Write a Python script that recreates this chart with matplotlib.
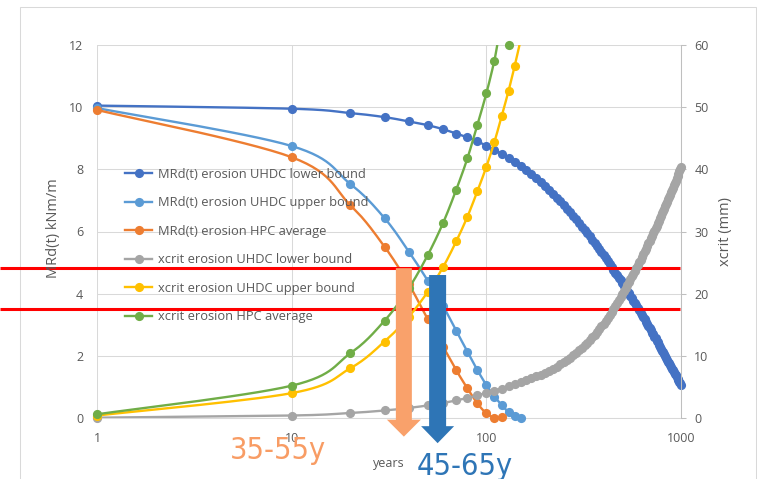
import numpy as np
import matplotlib
matplotlib.use("Agg")
import matplotlib.pyplot as plt
from matplotlib import font_manager
from matplotlib.lines import Line2D
from matplotlib.patches import Polygon, Rectangle
from matplotlib.transforms import blended_transform_factory

# ---------------------------------------------------------------- data
years_long = [1] + list(range(10, 1001, 10))

mrd_uhdc_lower = [
    10.05,
    9.95, 9.81, 9.68, 9.54, 9.42, 9.29, 9.15, 9.03, 8.90, 8.76,
    8.63, 8.50, 8.36, 8.23, 8.10, 7.97, 7.84, 7.72, 7.59, 7.46,
    7.34, 7.22, 7.09, 6.97, 6.85, 6.73, 6.62, 6.50, 6.39, 6.27,
    6.16, 6.05, 5.95, 5.84, 5.73, 5.63, 5.53, 5.43, 5.33, 5.23,
    5.14, 5.05, 4.95, 4.86, 4.77, 4.68, 4.60, 4.51, 4.43, 4.34,
    4.26, 4.18, 4.09, 4.01, 3.93, 3.85, 3.77, 3.70, 3.62, 3.54,
    3.47, 3.39, 3.32, 3.24, 3.17, 3.10, 3.03, 2.96, 2.89, 2.82,
    2.75, 2.69, 2.62, 2.56, 2.49, 2.43, 2.36, 2.30, 2.23, 2.17,
    2.11, 2.05, 1.99, 1.93, 1.87, 1.81, 1.76, 1.70, 1.65, 1.59,
    1.54, 1.48, 1.43, 1.37, 1.32, 1.27, 1.22, 1.17, 1.12, 1.07,
]

xcrit_uhdc_lower = [
    0.05,
    0.40, 0.81, 1.21, 1.62, 2.02, 2.42, 2.83, 3.23, 3.64, 4.04,
    4.39, 4.73, 5.07, 5.41, 5.75, 6.06, 6.37, 6.68, 6.99, 7.30,
    7.62, 7.94, 8.27, 8.61, 8.95, 9.32, 9.70, 10.09, 10.49, 10.90,
    11.31, 11.72, 12.14, 12.57, 13.00, 13.43, 13.86, 14.30, 14.75, 15.20,
    15.65, 16.10, 16.56, 17.03, 17.50, 17.97, 18.45, 18.93, 19.41, 19.90,
    20.38, 20.86, 21.34, 21.82, 22.30, 22.77, 23.24, 23.70, 24.15, 24.60,
    25.05, 25.49, 25.93, 26.37, 26.80, 27.23, 27.65, 28.07, 28.49, 28.90,
    29.31, 29.71, 30.11, 30.51, 30.91, 31.31, 31.71, 32.11, 32.51, 32.90,
    33.29, 33.68, 34.06, 34.44, 34.82, 35.20, 35.58, 35.95, 36.33, 36.70,
    37.07, 37.44, 37.81, 38.18, 38.55, 38.92, 39.29, 39.66, 40.03, 40.40,
]

years_uhdc_upper = [1, 10, 20, 30, 40, 50, 60, 70, 80, 90, 100, 110, 120, 130, 140, 150]
mrd_uhdc_upper = [9.97, 8.75, 7.53, 6.43, 5.35, 4.42, 3.60, 2.81, 2.13, 1.54,
                  1.06, 0.69, 0.42, 0.18, 0.05, 0.01]
xcrit_uhdc_upper = [0.4, 4.0, 8.0, 12.3, 16.3, 20.3, 24.3, 28.4, 32.4, 36.5,
                    40.4, 44.4, 48.6, 52.6, 56.7, 60.8]

years_hpc_mrd = [1, 10, 20, 30, 40, 50, 60, 70, 80, 90, 100, 110, 120]
mrd_hpc = [9.91, 8.39, 6.85, 5.51, 4.30, 3.18, 2.29, 1.54, 0.95, 0.47, 0.15, 0.01, 0.02]

years_hpc_x = [1, 10, 20, 30, 40, 50, 60, 70, 80, 90, 100, 110, 120, 130]
xcrit_hpc = [0.6, 5.2, 10.4, 15.65, 20.9, 26.2, 31.4, 36.7, 41.8, 47.2, 52.2, 57.5, 63.2, 60.0]

labels = [
    "MRd(t) erosion UHDC lower bound",
    "MRd(t) erosion UHDC upper bound",
    "MRd(t) erosion HPC average",
    "xcrit erosion UHDC lower bound",
    "xcrit erosion UHDC upper bound",
    "xcrit erosion HPC average",
]
colors = ["#4472C4", "#5B9BD5", "#ED7D31", "#A5A5A5", "#FFC000", "#70AD47"]

# MRd thresholds marked with red lines (kNm/m)
mrd_limits = [4.82, 3.50]

# ---------------------------------------------------------------- style
plt.rcParams["font.family"] = ["Open Sans", "DejaVu Sans"]
TXT = "#595959"
GRID = "#D9D9D9"
LW = 1.7
MS = 6.6

names = {f.name for f in font_manager.fontManager.ttflist}
if "Liberation Sans Narrow" in names:
    big_font = dict(family="Liberation Sans Narrow")
else:
    big_font = dict(family="DejaVu Sans", stretch="condensed")

W, H = 757, 479
fig = plt.figure(figsize=(W / 100, H / 100), dpi=100)
ax = fig.add_axes([97 / W, 61 / H, 584 / W, 373 / H])
ax2 = ax.twinx()

ax.set_xscale("log")
ax.set_xlim(1, 1000)
ax.set_ylim(0, 12)
ax2.set_ylim(0, 60)
ax.set_xticks([1, 10, 100, 1000])
ax.set_xticklabels(["1", "10", "100", "1000"])
ax.xaxis.set_minor_locator(matplotlib.ticker.NullLocator())
ax.set_yticks(range(0, 13, 2))
ax2.set_yticks(range(0, 61, 10))

ax.grid(True, which="major", color=GRID, lw=0.75)
ax.set_axisbelow(True)
for s in ("top", "left", "right"):
    ax.spines[s].set_visible(False)
ax.spines["bottom"].set_color(GRID)
ax.spines["bottom"].set_linewidth(0.75)
for s in ("top", "left", "bottom"):
    ax2.spines[s].set_visible(False)
ax2.spines["right"].set_color("#BFBFBF")
ax2.spines["right"].set_linewidth(0.75)

ax.tick_params(axis="x", length=0, pad=10, labelsize=9, labelcolor=TXT)
ax.tick_params(axis="y", length=0, pad=10, labelsize=9, labelcolor=TXT)
ax2.tick_params(axis="y", length=3.6, width=0.75, color="#BFBFBF", pad=6,
                labelsize=9, labelcolor=TXT)

# axis titles
fig.text(54 / W, 1 - 228 / H, "MRd(t) kNm/m", fontsize=10.5, color=TXT,
         rotation=90, ha="center", va="center")
fig.text(726 / W, 1 - 232 / H, "xcrit (mm)", fontsize=10.5, color=TXT,
         rotation=90, ha="center", va="center")
fig.text(389 / W, 1 - 463 / H, "years", fontsize=9, color=TXT,
         ha="center", va="center")


def smooth(axis, xs, ys, steps=16):
    """Bezier smoothing (Catmull-Rom style) in screen space."""
    pts = axis.transData.transform(np.column_stack([xs, ys]))
    n = len(pts)
    out = [pts[0]]
    s = np.linspace(0, 1, steps)[1:, None]
    for i in range(n - 1):
        p0 = pts[i - 1] if i > 0 else pts[i]
        p1, p2 = pts[i], pts[i + 1]
        p3 = pts[i + 2] if i + 2 < n else pts[i + 1]
        c1 = p1 + (p2 - p0) / 6
        c2 = p2 - (p3 - p1) / 6
        seg = ((1 - s) ** 3) * p1 + 3 * ((1 - s) ** 2) * s * c1 \
            + 3 * (1 - s) * s ** 2 * c2 + s ** 3 * p2
        out.extend(seg)
    return axis.transData.inverted().transform(np.array(out))


def series(axis, xs, ys, color, ymax):
    xs = np.asarray(xs, float)
    ys = np.asarray(ys, float)
    curve = smooth(axis, xs, ys)
    axis.plot(curve[:, 0], curve[:, 1], color=color, lw=LW, zorder=3,
              solid_capstyle="round")
    keep = (ys <= ymax + 1e-9) & (ys >= 0)
    axis.plot(xs[keep], ys[keep], "o", color=color, ms=MS, mew=0,
              zorder=4, clip_on=False)


series(ax, years_long, mrd_uhdc_lower, colors[0], 12)
series(ax, years_uhdc_upper, mrd_uhdc_upper, colors[1], 12)
series(ax, years_hpc_mrd, mrd_hpc, colors[2], 12)
series(ax2, years_long, xcrit_uhdc_lower, colors[3], 60)
series(ax2, years_uhdc_upper, xcrit_uhdc_upper, colors[4], 60)
series(ax2, years_hpc_x, xcrit_hpc, colors[5], 60)

handles = [Line2D([], [], color=c, lw=LW, marker="o", ms=MS, mew=0) for c in colors]
leg = ax2.legend(handles, labels, loc="center left", frameon=False,
                 bbox_to_anchor=(125 / W, 1 - 245.5 / H),
                 bbox_transform=fig.transFigure, fontsize=9.3,
                 labelcolor=TXT, handlelength=2.1, handletextpad=0.45,
                 labelspacing=1.2, borderpad=0, borderaxespad=0)
leg.set_zorder(1)

# red threshold lines, running out to the left edge of the figure
tr = blended_transform_factory(fig.transFigure, ax.transData)
for v in mrd_limits:
    ax.plot([0, 680 / W], [v, v], color="#FF0000", lw=2.2, transform=tr,
            clip_on=False, zorder=6, solid_capstyle="butt")


def down_arrow(t, top, tip, color, shaft=16, head=34, head_len=17):
    (cx, ytop), = ax.transData.transform([(t, top)])
    (_, ytip), = ax.transData.transform([(t, tip)])
    yh = ytip + head_len
    pts = [(cx - shaft / 2, ytop), (cx + shaft / 2, ytop), (cx + shaft / 2, yh),
           (cx + head / 2, yh), (cx, ytip), (cx - head / 2, yh),
           (cx - shaft / 2, yh)]
    pts = fig.transFigure.inverted().transform(pts)
    fig.add_artist(Polygon(pts, closed=True, facecolor=color, edgecolor="none",
                           transform=fig.transFigure, zorder=7))


down_arrow(37.7, 4.82, -0.60, "#F9A16B")
down_arrow(56.2, 4.60, -0.81, "#2E75B6", shaft=17, head=33)

fig.text(277.5 / W, 1 - 459 / H, "35-55y", fontsize=22, color="#F89C64",
         ha="center", va="baseline", **big_font)
fig.text(464.5 / W, 1 - 475 / H, "45-65y", fontsize=22, color="#2E75B6",
         ha="center", va="baseline", **big_font)

# chart frame
fig.add_artist(Rectangle((19.5 / W, -0.1), 736 / W, (472.5 / H) + 0.1,
                         transform=fig.transFigure, facecolor="none",
                         edgecolor=GRID, lw=0.75, zorder=0))

fig.savefig("out.png", dpi=100)
